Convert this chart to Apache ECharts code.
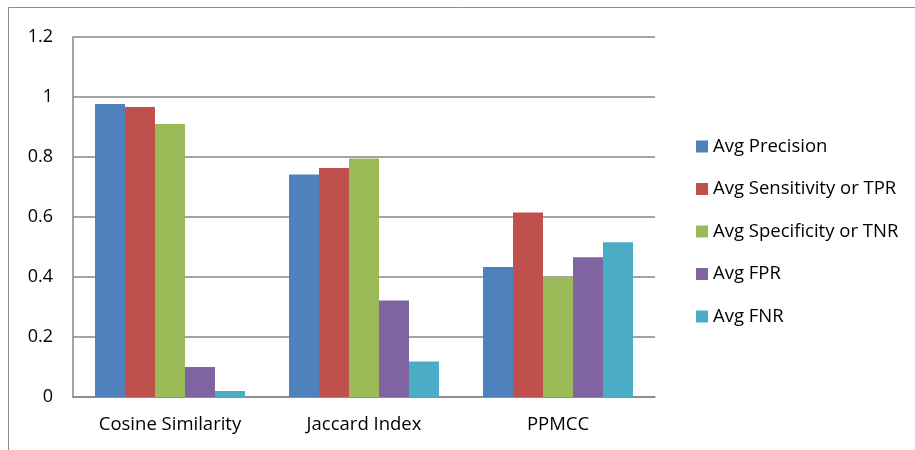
<!DOCTYPE html>
<html>
<head>
<meta charset="utf-8">
<script src="https://cdn.jsdelivr.net/npm/echarts@6/dist/echarts.min.js"></script>
<style>
  html, body { margin: 0; padding: 0; background: #fff; }
  #chart { width: 915px; height: 450px; }
</style>
</head>
<body>
<div id="chart"></div>
<script>
// Data
const categories = ['Cosine Similarity', 'Jaccard Index', 'PPMCC'];
const seriesNames = ['Avg Precision', 'Avg Sensitivity or TPR', 'Avg Specificity or TNR', 'Avg FPR', 'Avg FNR'];
const avgPrecision = [0.977, 0.742, 0.433];
const avgSensitivity = [0.967, 0.763, 0.615];
const avgSpecificity = [0.91, 0.795, 0.40];
const avgFPR = [0.10, 0.322, 0.466];
const avgFNR = [0.02, 0.118, 0.516];
const colors = ['#4F81BD', '#C0504D', '#9BBB59', '#8064A2', '#4BACC6'];

const allValues = [avgPrecision, avgSensitivity, avgSpecificity, avgFPR, avgFNR];
const font = 'Open Sans, sans-serif';

const chart = echarts.init(document.getElementById('chart'));
let option = {
    animation: false,
    graphic: [
        {
            type: 'rect',
            shape: { x: 8.5, y: 7.5, width: 1000, height: 1000 },
            style: { fill: 'none', stroke: '#8c8c8c', lineWidth: 1 }
        }
    ],
    grid: {
        left: 73,
        right: 260,
        top: 37,
        bottom: 53
    },
    legend: {
        orient: 'vertical',
        left: 691,
        top: 132,
        itemWidth: 12,
        itemHeight: 12,
        itemGap: 23.5,
        icon: 'rect',
        textStyle: { fontFamily: font, fontSize: 18.5, color: '#000' },
        data: seriesNames
    },
    xAxis: {
        type: 'category',
        data: categories,
        axisLine: { lineStyle: { color: '#868686', width: 1.5 } },
        axisTick: { show: false },
        axisLabel: { fontFamily: font, fontSize: 18.5, color: '#000', margin: 18 }
    },
    yAxis: {
        type: 'value',
        min: 0,
        max: 1.2,
        interval: 0.2,
        axisLine: { show: true, lineStyle: { color: '#868686', width: 1.5 } },
        axisTick: { show: false },
        splitLine: { lineStyle: { color: '#868686', width: 1.5 } },
        axisLabel: {
            fontFamily: font, fontSize: 18, color: '#000', margin: 20,
            formatter: v => String(Math.round(v * 10) / 10)
        }
    },
    series: seriesNames.map((name, i) => ({
        name: name,
        type: 'bar',
        data: allValues[i],
        barGap: '0%',
        barCategoryGap: '22.7%',
        itemStyle: { color: colors[i] }
    }))
};
chart.setOption(option);
</script>
</body>
</html>
